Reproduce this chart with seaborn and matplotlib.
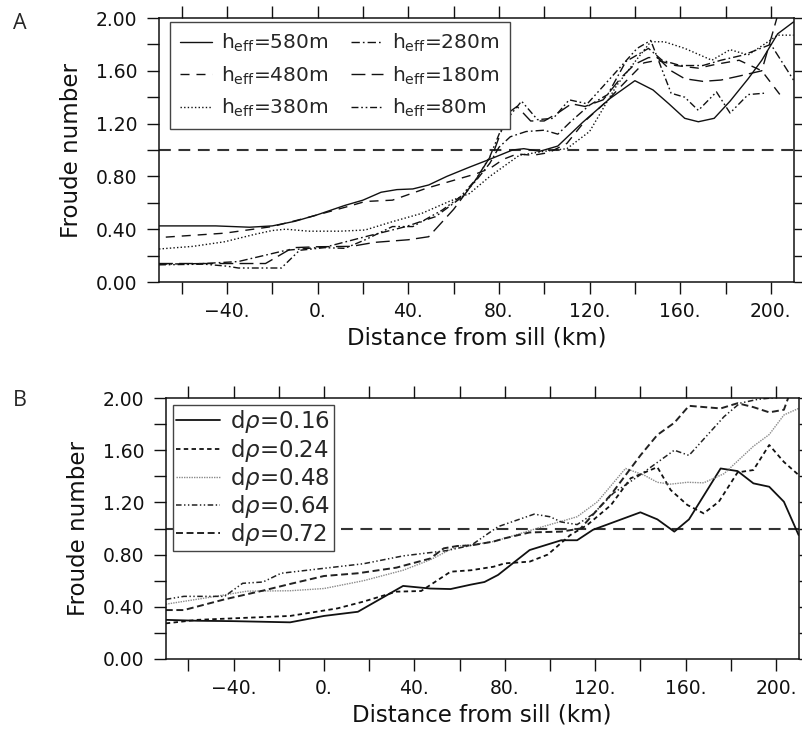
import matplotlib
matplotlib.use("Agg")
import matplotlib.pyplot as plt
import seaborn as sns
import numpy as np

# ---------------- Panel A data (h_eff series) ----------------
a580_x = [-70, -45, -30, -20, -10, 0, 12, 20, 28, 35, 42, 49, 57, 67, 76, 86, 91, 98, 106, 117, 129, 140, 148, 155, 162, 168, 175, 182, 190, 196, 203, 210]
a580_y = [0.425, 0.425, 0.415, 0.425, 0.46, 0.51, 0.58, 0.62, 0.68, 0.70, 0.705, 0.735, 0.80, 0.87, 0.93, 1.00, 1.01, 0.99, 1.03, 1.21, 1.39, 1.525, 1.455, 1.35, 1.24, 1.214, 1.24, 1.37, 1.54, 1.68, 1.88, 1.97]

a480_x = [-67, -41, -20, -4, 14, 21, 33, 48, 63, 70, 76, 82, 88, 95, 102, 110, 118, 127, 136, 144, 150, 158, 168, 176, 186, 196, 204]
a480_y = [0.34, 0.37, 0.42, 0.49, 0.575, 0.61, 0.62, 0.71, 0.785, 0.82, 0.86, 0.93, 0.97, 0.96, 0.98, 1.05, 1.22, 1.36, 1.52, 1.66, 1.68, 1.64, 1.62, 1.65, 1.68, 1.60, 1.42]

a380_x = [-70, -55, -41, -28, -20, -14, -4, 10, 21, 33, 46, 58, 67, 76, 89, 100, 110, 120, 132, 141, 147, 153, 162, 174, 182, 190, 197, 203, 210]
a380_y = [0.25, 0.27, 0.305, 0.36, 0.39, 0.40, 0.385, 0.385, 0.394, 0.457, 0.52, 0.61, 0.67, 0.80, 0.96, 0.99, 1.01, 1.14, 1.49, 1.69, 1.82, 1.82, 1.77, 1.68, 1.76, 1.72, 1.80, 1.87, 1.87]

a280_x = [-70, -50, -35, -14, 4, 21, 39, 52, 63, 70, 76, 80, 85, 92, 100, 106, 112, 120, 128, 136, 146, 152, 160, 170, 178, 188, 200, 210]
a280_y = [0.135, 0.14, 0.155, 0.24, 0.267, 0.343, 0.42, 0.495, 0.634, 0.77, 0.90, 1.02, 1.10, 1.14, 1.15, 1.12, 1.22, 1.34, 1.42, 1.67, 1.77, 1.68, 1.64, 1.64, 1.68, 1.72, 1.80, 1.53]

a180_x = [-70, -45, -23, -11, 0, 15, 25, 40, 49, 60, 70, 78, 84, 88, 94, 100, 106, 112, 118, 126, 134, 140, 146, 150, 156, 162, 170, 178, 186, 196, 203]
a180_y = [0.14, 0.14, 0.14, 0.26, 0.267, 0.27, 0.30, 0.32, 0.343, 0.55, 0.78, 1.0, 1.28, 1.33, 1.22, 1.22, 1.28, 1.35, 1.33, 1.38, 1.55, 1.65, 1.70, 1.70, 1.60, 1.54, 1.52, 1.53, 1.56, 1.60, 2.02]

a80_x = [-70, -50, -40, -35, -16, -8, 3, 12, 21, 33, 42, 55, 63, 70, 76, 82, 90, 97, 104, 111, 119, 129, 141, 147, 156, 162, 168, 176, 182, 190, 197]
a80_y = [0.13, 0.135, 0.12, 0.106, 0.106, 0.24, 0.26, 0.255, 0.32, 0.42, 0.42, 0.545, 0.646, 0.78, 0.95, 1.20, 1.37, 1.23, 1.24, 1.38, 1.35, 1.54, 1.77, 1.83, 1.43, 1.40, 1.30, 1.44, 1.28, 1.42, 1.43]

# ---------------- Panel B data (d rho series) ----------------
b016_x = [-70, -56, -40, -15, 0, 15, 35, 47, 56, 65, 71, 77, 91, 105, 112, 119, 140, 147.5, 155, 161.5, 175.5, 183, 190, 197, 203.5, 210]
b016_y = [0.30, 0.293, 0.29, 0.281, 0.33, 0.362, 0.56, 0.54, 0.536, 0.57, 0.59, 0.644, 0.835, 0.91, 0.91, 0.99, 1.124, 1.07, 0.976, 1.07, 1.46, 1.44, 1.346, 1.32, 1.205, 0.95]

b024_x = [-70, -56, -15, 6, 17.5, 32, 43, 56, 65, 75, 80, 91, 99, 109, 116.5, 127, 135.7, 147.5, 153.4, 160.8, 168, 174.7, 183, 190, 197, 203.5, 210]
b024_y = [0.273, 0.30, 0.33, 0.388, 0.44, 0.516, 0.521, 0.669, 0.68, 0.707, 0.733, 0.746, 0.80, 0.95, 1.027, 1.18, 1.385, 1.47, 1.295, 1.18, 1.116, 1.205, 1.43, 1.448, 1.64, 1.51, 1.41]

b048_x = [-70, -49, -34, -15, 0, 17.5, 35, 47, 59, 65, 75, 80, 94, 112, 121, 133.4, 141.5, 147.5, 153.4, 160.8, 168, 177, 190, 197, 203.5, 210]
b048_y = [0.42, 0.477, 0.52, 0.523, 0.54, 0.60, 0.68, 0.76, 0.866, 0.874, 0.90, 0.925, 1.0, 1.09, 1.205, 1.46, 1.41, 1.354, 1.34, 1.354, 1.35, 1.42, 1.63, 1.72, 1.87, 1.92]

b064_x = [-70, -62, -44, -36, -27, -19, 0, 17.5, 35, 54, 65, 77, 93, 100, 105, 112, 119, 128, 139, 155, 161.5, 177, 184, 192, 204, 210]
b064_y = [0.457, 0.48, 0.48, 0.58, 0.59, 0.657, 0.695, 0.73, 0.79, 0.83, 0.87, 1.014, 1.11, 1.09, 1.05, 1.03, 1.11, 1.27, 1.40, 1.60, 1.56, 1.857, 1.96, 1.99, 2.01, 2.05]

b072_x = [-70, -62, -44, -27, -15, 0, 15, 32, 47, 53, 59, 65, 75, 80, 91, 105, 113.5, 127, 140, 147.5, 155, 161.5, 175.5, 183, 190, 197, 203.5, 206]
b072_y = [0.375, 0.375, 0.457, 0.524, 0.575, 0.636, 0.657, 0.70, 0.77, 0.848, 0.866, 0.87, 0.90, 0.925, 0.97, 0.976, 1.0, 1.26, 1.56, 1.717, 1.81, 1.94, 1.92, 1.96, 1.93, 1.89, 1.91, 2.03]

labels_a = [r"h$_{\mathrm{eff}}$=580m", r"h$_{\mathrm{eff}}$=480m", r"h$_{\mathrm{eff}}$=380m",
            r"h$_{\mathrm{eff}}$=280m", r"h$_{\mathrm{eff}}$=180m", r"h$_{\mathrm{eff}}$=80m"]
labels_b = [r"d$\rho$=0.16", r"d$\rho$=0.24", r"d$\rho$=0.48", r"d$\rho$=0.64", r"d$\rho$=0.72"]

x_ticks = list(range(-60, 201, 20))
x_ticklabels = ["" if v % 40 else ("\u2212%d." % -v if v < 0 else "%d." % v) for v in x_ticks]
y_ticks = [0.0, 0.2, 0.4, 0.6, 0.8, 1.0, 1.2, 1.4, 1.6, 1.8, 2.0]
y_ticklabels = ["%.2f" % v if i % 2 == 0 else "" for i, v in enumerate(y_ticks)]

# ---------------- styling ----------------
sns.set_theme(style="ticks")
plt.rcParams["font.family"] = ["DejaVu Sans"]
plt.rcParams["lines.scale_dashes"] = False
plt.rcParams["mathtext.fontset"] = "dejavusans"

styles_a = [
    dict(linestyle="-", lw=1.0),
    dict(linestyle=(0, (6.5, 5.0)), lw=1.0),
    dict(linestyle=(0, (1.0, 1.6)), lw=1.0),
    dict(linestyle=(0, (6.0, 2.2, 1.2, 2.2)), lw=1.0),
    dict(linestyle=(0, (10.0, 4.5)), lw=1.0),
    dict(linestyle=(0, (5.0, 2.0, 1.2, 2.0, 1.2, 2.0)), lw=1.0),
]
styles_b = [
    dict(linestyle="-", lw=1.3, color="#111111"),
    dict(linestyle=(0, (3.2, 2.4)), lw=1.3, color="#111111"),
    dict(linestyle=(0, (1.0, 0.8)), lw=1.0, color="#8a8a8a"),
    dict(linestyle=(0, (4.0, 1.8, 1.0, 1.8, 1.0, 1.8)), lw=1.1, color="#222222"),
    dict(linestyle=(0, (5.0, 2.6)), lw=1.4, color="#222222"),
]

fig = plt.figure(figsize=(8.02, 7.35), dpi=100)
axA = fig.add_axes([159 / 802, (735 - 282) / 735, 634.5 / 802, 264 / 735])
axB = fig.add_axes([165.8 / 802, (735 - 659) / 735, 632.8 / 802, 261 / 735])


def style_axes(ax):
    ax.set_xlim(-70, 210)
    ax.set_ylim(0, 2.0)
    ax.set_xticks(x_ticks)
    ax.set_xticklabels(x_ticklabels)
    ax.set_yticks(y_ticks)
    ax.set_yticklabels(y_ticklabels)
    ax.tick_params(axis="both", direction="out", length=8.5, width=1.0, color="#111111",
                   top=True, right=True, labelsize=13.5, labelcolor="#111111")
    ax.tick_params(axis="y", pad=7.0)
    ax.tick_params(axis="x", pad=6)
    for s in ax.spines.values():
        s.set_visible(True)
        s.set_linewidth(1.1)
        s.set_color("#111111")
    ax.set_xlabel("Distance from sill (km)", fontsize=16.5, color="#111111", labelpad=4)
    ax.set_ylabel("Froude number", fontsize=16.5, color="#111111", labelpad=9)
    ax.axhline(1.0, color="#333333", lw=1.5, linestyle=(0, (8.5, 5.5)), zorder=1)
    ax.set_facecolor("white")
    ax.grid(False)


style_axes(axA)
style_axes(axB)

series_a = [(a580_x, a580_y), (a480_x, a480_y), (a380_x, a380_y),
            (a280_x, a280_y), (a180_x, a180_y), (a80_x, a80_y)]
handles_a = []
for (xs, ys), st in zip(series_a, styles_a):
    n0 = len(axA.lines)
    sns.lineplot(x=xs, y=ys, ax=axA, color="#111111", estimator=None, sort=False, **st)
    handles_a.append(axA.lines[n0])

series_b = [(b016_x, b016_y), (b024_x, b024_y), (b048_x, b048_y), (b064_x, b064_y), (b072_x, b072_y)]
handles_b = []
for (xs, ys), st in zip(series_b, styles_b):
    n0 = len(axB.lines)
    sns.lineplot(x=xs, y=ys, ax=axB, estimator=None, sort=False, **st)
    handles_b.append(axB.lines[n0])

# Legend A: column-major order (580,480,380 | 280,180,80)
legA = axA.legend(handles_a, labels_a, ncol=2, loc="upper left",
                  bbox_to_anchor=((170 - 159) / 634.5, (282 - 22) / 264), borderaxespad=0,
                  fontsize=14.5, handlelength=1.6, handletextpad=0.45, columnspacing=1.1,
                  labelspacing=0.5, borderpad=0.5, frameon=True, fancybox=False)
legA.get_frame().set_edgecolor("#444444")
legA.get_frame().set_linewidth(1.0)
legA.get_frame().set_alpha(1)

legB = axB.legend(handles_b, labels_b, loc="upper left",
                  bbox_to_anchor=((173 - 165.8) / 632.8, (659 - 405) / 261), borderaxespad=0,
                  fontsize=16.5, handlelength=1.9, handletextpad=0.45,
                  labelspacing=0.05, borderpad=0.15, frameon=True, fancybox=False)
legB.get_frame().set_edgecolor("#444444")
legB.get_frame().set_linewidth(1.0)
legB.get_frame().set_alpha(1)

fig.text(13 / 802, 1 - 13 / 735, "A", fontsize=15.5, family=["Open Sans", "DejaVu Sans"], va="top", ha="left")
fig.text(13 / 802, 1 - 390 / 735, "B", fontsize=15.5, family=["Open Sans", "DejaVu Sans"], va="top", ha="left")

fig.savefig("out.png", dpi=100, facecolor="white")
